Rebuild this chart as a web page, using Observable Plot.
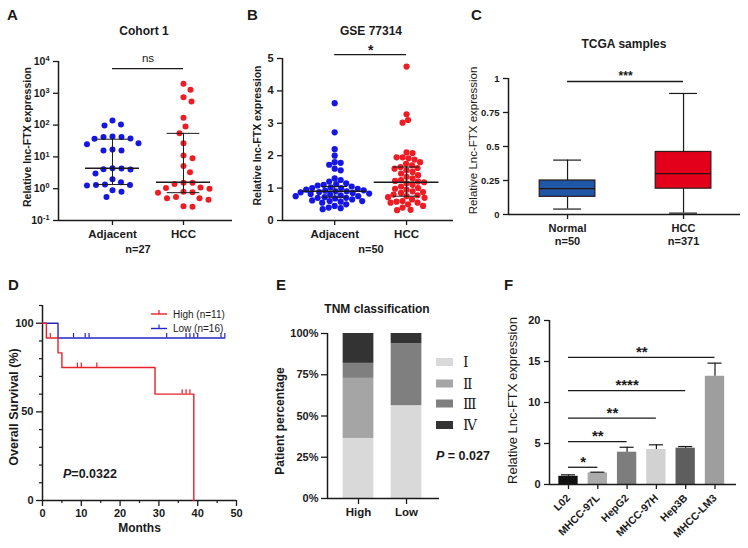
<!DOCTYPE html>
<html><head><meta charset="utf-8">
<script src="https://cdn.jsdelivr.net/npm/d3@7"></script>
<script src="https://cdn.jsdelivr.net/npm/@observablehq/plot@0.6"></script>
<style>
body{margin:0;background:#fff;}
#wrap{position:relative;width:748px;height:548px;overflow:hidden;background:#fff;}
.panel{position:absolute;}
#overlay{position:absolute;left:0;top:0;pointer-events:none;}
</style></head><body><div id="wrap"></div>
<script>
// ---------------- DATA ----------------
// A: Cohort 1 (log scale)
const groupsA = ["Adjacent", "HCC"];
const adjA = [140, 98, 105, 42, 42, 38, 37, 44, 27, 25, 17, 16, 16, 4.3, 4.1, 4.0, 3.0, 4.4, 2.0, 1.6, 1.3, 1.25, 1.35, 1.3, 0.9, 0.8, 0.55];
const hccA = [2000, 1300, 750, 550, 170, 90, 55, 27, 11, 9, 5.2, 3.3, 1.55, 1.55, 1.4, 1.1, 1.05, 1.0, 0.8, 0.75, 0.78, 0.55, 0.5, 0.5, 0.45, 0.27, 0.28];
const medA = [4.4, 1.6], q1A = [1.35, 0.75], q3A = [36, 55];
const sigA = {y: 6000, label: "ns"};
const ticksA = [0.1, 1, 10, 100, 1000, 10000];
// B: GSE 77314
const groupsB = ["Adjacent", "HCC"];
const adjB = [3.62, 2.72, 2.2, 2.0, 1.8, 1.78, 1.72, 1.6, 1.55, 1.3, 1.25, 1.2, 1.15, 1.12, 1.1, 1.08, 1.05, 1.02, 1.0, 1.0, 0.98, 0.95, 0.93, 0.92, 0.9, 0.9, 0.88, 0.87, 0.85, 0.83, 0.82, 0.8, 0.78, 0.75, 0.75, 0.72, 0.7, 0.7, 0.68, 0.65, 0.62, 0.6, 0.6, 0.58, 0.55, 0.5, 0.45, 0.4, 0.38, 0.35];
const hccB = [4.75, 3.28, 3.1, 3.02, 2.1, 2.08, 1.95, 1.95, 1.92, 1.88, 1.8, 1.75, 1.7, 1.65, 1.62, 1.6, 1.55, 1.5, 1.45, 1.4, 1.35, 1.3, 1.25, 1.22, 1.2, 1.18, 1.15, 1.1, 1.05, 1.0, 0.98, 0.95, 0.9, 0.88, 0.85, 0.8, 0.78, 0.75, 0.72, 0.7, 0.65, 0.6, 0.58, 0.55, 0.55, 0.5, 0.45, 0.4, 0.33, 0.32];
const medB = [0.9, 1.18], q1B = [0.72, 0.75], q3B = [1.05, 1.65];
const sigB = {y: 5.12, label: "*"};
const ticksB = [0, 1, 2, 3, 4, 5];
// C: TCGA samples (box summaries)
const groupsC = ["Normal", "HCC"];
const nC = [50, 371];
const minC = [0.04, 0.01], q1C = [0.13, 0.19], medC = [0.19, 0.30], q3C = [0.25, 0.46], maxC = [0.40, 0.89];
const sigC = {y: 0.978, label: "***"};
const ticksC = [0, 0.25, 0.5, 0.75, 1];
// D: Kaplan-Meier
const highT = [0, 1, 4, 5, 29, 39], highS = [100, 91.7, 83.3, 75, 60, 0];
const lowT = [0, 4, 47], lowS = [100, 91.7, 91.7];
const highCensT = [2, 9, 10, 14, 36, 37, 38], highCensS = [91.7, 75, 75, 75, 60, 60, 60];
const lowCensT = [8, 11, 12, 32, 37, 38, 39, 40, 46, 47], lowCensS = [91.7, 91.7, 91.7, 91.7, 91.7, 91.7, 91.7, 91.7, 91.7, 91.7];
const seriesD = ["High (n=11)", "Low (n=16)"];
const pD = "0.0322";
// E: TNM classification (%)
const tnmGroups = ["High", "Low"];
const stages = ["Ⅰ", "Ⅱ", "Ⅲ", "Ⅳ"];
const tnmHigh = [36.4, 36.4, 9.1, 18.1];
const tnmLow = [56.25, 0, 37.5, 6.25];
const pE = "0.027";
// F: cell lines
const cells = ["L02", "MHCC-97L", "HepG2", "MHCC-97H", "Hep3B", "MHCC-LM3"];
const cellMean = [1.0, 1.42, 3.94, 4.27, 4.43, 13.2];
const cellSD = [0.18, 0.08, 0.6, 0.57, 0.2, 1.6];
const sigTo = [1, 2, 3, 4, 5];
const sigY = [2.1, 5.24, 8.1, 11.46, 15.5];
const sigLabel = ["*", "**", "**", "****", "**"];

// ---------------- STYLE ----------------
const FONT = 'Arial, "Liberation Sans", sans-serif';
const BLUE = "#1616e4", RED = "#ef1c24";
const INK = "#1a1a1a";
const wrap = document.getElementById("wrap");
function style(extra) {
  return Object.assign({background: "transparent", overflow: "visible", fontFamily: FONT,
    fontSize: "11px", fontWeight: "bold", color: INK}, extra || {});
}
function place(svg, left, top) {
  const d = document.createElement("div");
  d.className = "panel"; d.style.left = left + "px"; d.style.top = top + "px";
  d.appendChild(svg); wrap.appendChild(d);
}
function ylabel(s, dx, dy, size, weight) {
  return Plot.text([s], {text: d => d, frameAnchor: "left", textAnchor: "middle", lineAnchor: "middle",
    rotate: -90, dx, dy, fontSize: size, fontWeight: weight || "bold"});
}
function swarm(vals, py, unitPx, dmin) {
  const n = vals.length, off = new Array(n), placed = [];
  const order = d3.range(n).sort((a, b) => py(vals[a]) - py(vals[b]));
  for (const i of order) {
    const y = py(vals[i]);
    let xb = 0;
    for (let k = 0; k < 4000; k++) {
      const c = (k % 2 ? 1 : -1) * Math.ceil(k / 2) * 0.5;
      if (placed.every(p => (p.x - c) ** 2 + (p.y - y) ** 2 >= dmin * dmin)) { xb = c; break; }
    }
    placed.push({x: xb, y});
    off[i] = xb / unitPx;
  }
  return off;
}
function superscripts(svg) {
  d3.select(svg).selectAll('g[aria-label="y-axis tick label"] text').each(function () {
    const parts = this.textContent.split("^");
    if (parts.length === 2) {
      const s = d3.select(this); s.text(parts[0]);
      s.append("tspan").attr("dy", "-0.5em").attr("font-size", "0.7em").text(parts[1]);
    }
  });
}

// ---------------- PANEL A ----------------
{
  const W = 245, H = 265, m = {l: 58, r: 13, t: 61, b: 45};
  const xd = [-0.76, 1.69];
  const ys = Plot.scale({y: {type: "log", domain: [0.1, 1e4], range: [H - m.b, m.t]}});
  const unit = (W - m.l - m.r) / (xd[1] - xd[0]);
  const pts = [];
  [adjA, hccA].forEach((vals, g) => {
    const off = swarm(vals, v => ys.apply(v), unit, 9);
    vals.forEach((v, i) => pts.push({g: groupsA[g], v, x: g + off[i]}));
  });
  const sum = groupsA.map((name, i) => ({i, med: medA[i], q1: q1A[i], q3: q3A[i]}));
  const svg = Plot.plot({
    width: W, height: H, marginLeft: m.l, marginRight: m.r, marginTop: m.t, marginBottom: m.b,
    style: style(),
    x: {domain: xd}, y: {type: "log", domain: [0.1, 1e4]},
    color: {domain: groupsA, range: [BLUE, RED]},
    marks: [
      Plot.dot(pts, {x: "x", y: "v", r: 3, fill: "g"}),
      Plot.ruleY(sum, {y: "med", x1: d => d.i - 0.38, x2: d => d.i + 0.38, stroke: INK, strokeWidth: 1.4}),
      Plot.ruleY(sum, {y: "q1", x1: d => d.i - 0.23, x2: d => d.i + 0.23, stroke: INK, strokeWidth: 1}),
      Plot.ruleY(sum, {y: "q3", x1: d => d.i - 0.23, x2: d => d.i + 0.23, stroke: INK, strokeWidth: 1}),
      Plot.ruleX(sum, {x: "i", y1: "q1", y2: "q3", stroke: INK, strokeWidth: 1}),
      Plot.ruleX([xd[0]], {stroke: INK, strokeWidth: 1.5}),
      Plot.ruleY([0.1], {stroke: INK, strokeWidth: 1.5}),
      Plot.axisY({ticks: ticksA, tickFormat: d => "10^" + Math.round(Math.log10(d)), tickSize: 5, strokeWidth: 1.3, fontSize: 10.5, label: null}),
      Plot.axisX({ticks: [0, 1], tickFormat: i => groupsA[i], tickSize: 5, strokeWidth: 1.3, fontSize: 11.5, label: null}),
      Plot.ruleY([sigA], {y: "y", x1: 0, x2: 1, stroke: INK, strokeWidth: 1.3}),
      Plot.text([sigA], {y: "y", x: 0.5, text: "label", dy: -10, fontWeight: "normal", fontSize: 11.5}),
      ylabel("Relative lnc-FTX expression", -31, -4, 10.5)
    ]
  });
  superscripts(svg);
  place(svg, 0, 0);
}

// ---------------- PANEL B ----------------
{
  const W = 245, H = 265, m = {l: 42, r: 32, t: 58, b: 45};
  const xd = [-0.726, 1.653];
  const ys = Plot.scale({y: {domain: [0, 5], range: [H - m.b, m.t]}});
  const unit = (W - m.l - m.r) / (xd[1] - xd[0]);
  const pts = [];
  [adjB, hccB].forEach((vals, g) => {
    const off = swarm(vals, v => ys.apply(v), unit, 6.0);
    vals.forEach((v, i) => pts.push({g: groupsB[g], v, x: g + off[i]}));
  });
  const sum = groupsB.map((name, i) => ({i, med: medB[i], q1: q1B[i], q3: q3B[i]}));
  const svg = Plot.plot({
    width: W, height: H, marginLeft: m.l, marginRight: m.r, marginTop: m.t, marginBottom: m.b,
    style: style(),
    x: {domain: xd}, y: {domain: [0, 5]},
    color: {domain: groupsB, range: [BLUE, RED]},
    marks: [
      Plot.dot(pts, {x: "x", y: "v", r: 3.1, fill: "g"}),
      Plot.ruleY(sum, {y: "med", x1: d => d.i - 0.45, x2: d => d.i + 0.45, stroke: INK, strokeWidth: 1.5}),
      Plot.ruleY(sum, {y: "q1", x1: d => d.i - 0.18, x2: d => d.i + 0.18, stroke: INK, strokeWidth: 1}),
      Plot.ruleY(sum, {y: "q3", x1: d => d.i - 0.18, x2: d => d.i + 0.18, stroke: INK, strokeWidth: 1}),
      Plot.ruleX(sum, {x: "i", y1: "q1", y2: "q3", stroke: INK, strokeWidth: 1}),
      Plot.ruleX([xd[0]], {stroke: INK, strokeWidth: 1.5}),
      Plot.ruleY([0], {stroke: INK, strokeWidth: 1.5}),
      Plot.axisY({ticks: ticksB, tickFormat: d => String(d), tickSize: 5, strokeWidth: 1.3, fontSize: 11, label: null}),
      Plot.axisX({ticks: [0, 1], tickFormat: i => groupsB[i], tickSize: 5, strokeWidth: 1.3, fontSize: 11.5, label: null}),
      Plot.ruleY([sigB], {y: "y", x1: 0, x2: 1, stroke: INK, strokeWidth: 1.3}),
      Plot.text([sigB], {y: "y", x: 0.5, text: "label", dy: -4, fontSize: 14}),
      ylabel("Relative lnc-FTX expression", -25, -4, 10.5)
    ]
  });
  place(svg, 240, 0);
}

// ---------------- PANEL C ----------------
{
  const W = 288, H = 262, m = {l: 48, r: 8, t: 78, b: 48};
  const xd = [-0.509, 1.491];
  const box = groupsC.map((g, i) => ({i, g, min: minC[i], q1: q1C[i], med: medC[i], q3: q3C[i], max: maxC[i]}));
  const svg = Plot.plot({
    width: W, height: H, marginLeft: m.l, marginRight: m.r, marginTop: m.t, marginBottom: m.b,
    style: style(),
    x: {domain: xd}, y: {domain: [0, 1]},
    color: {domain: groupsC, range: ["#1f56a6", "#e3001b"]},
    marks: [
      Plot.ruleX(box, {x: "i", y1: "min", y2: "q1", stroke: INK, strokeWidth: 1.2}),
      Plot.ruleX(box, {x: "i", y1: "q3", y2: "max", stroke: INK, strokeWidth: 1.2}),
      Plot.ruleY(box, {y: "min", x1: d => d.i - 0.12, x2: d => d.i + 0.12, stroke: INK, strokeWidth: 1.2}),
      Plot.ruleY(box, {y: "max", x1: d => d.i - 0.12, x2: d => d.i + 0.12, stroke: INK, strokeWidth: 1.2}),
      Plot.rectY(box, {x1: d => d.i - 0.24, x2: d => d.i + 0.24, y1: "q1", y2: "q3", fill: "g", stroke: "#2a1a1a", strokeWidth: 1.2}),
      Plot.ruleY(box, {y: "med", x1: d => d.i - 0.24, x2: d => d.i + 0.24, stroke: "#2a1010", strokeWidth: 1.3}),
      Plot.ruleX([xd[0]], {stroke: INK, strokeWidth: 1.5}),
      Plot.ruleY([0], {stroke: INK, strokeWidth: 1.5}),
      Plot.axisY({ticks: ticksC, tickFormat: d => String(d), tickSize: 5, strokeWidth: 1.3, fontSize: 9.5, label: null}),
      Plot.axisX({ticks: [0, 1], tickFormat: i => groupsC[i] + "\nn=" + nC[i], tickSize: 5, strokeWidth: 1.3, fontSize: 11, lineHeight: 1.15, label: null}),
      Plot.ruleY([sigC], {y: "y", x1: 0, x2: 1, stroke: INK, strokeWidth: 1.3}),
      Plot.text([sigC], {y: "y", x: 0.5, text: "label", dy: -5, fontSize: 12}),
      ylabel("Relative Lnc-FTX expression", -35, -6, 11.5, "normal")
    ]
  });
  place(svg, 460, 0);
}

// ---------------- PANEL D ----------------
{
  const W = 245, H = 278, m = {l: 42, r: 9, t: 35, b: 48};
  const high = highT.map((t, i) => ({t, s: highS[i]}));
  const low = lowT.map((t, i) => ({t, s: lowS[i]}));
  const hc = highCensT.map((t, i) => ({t, s: highCensS[i]}));
  const lc = lowCensT.map((t, i) => ({t, s: lowCensS[i]}));
  const svg = Plot.plot({
    width: W, height: H, marginLeft: m.l, marginRight: m.r, marginTop: m.t, marginBottom: m.b,
    style: style(),
    x: {domain: [0, 50]}, y: {domain: [0, 110]},
    marks: [
      Plot.ruleX([0], {stroke: INK, strokeWidth: 1.5}),
      Plot.ruleY([0], {stroke: INK, strokeWidth: 1.5}),
      Plot.axisY({ticks: [0, 50, 100], tickSize: 6, strokeWidth: 1.3, fontSize: 11, label: null}),
      Plot.axisY({ticks: d3.range(10, 111, 10).filter(v => v !== 50 && v !== 100), tickSize: 3, strokeWidth: 1.2, tickFormat: () => "", label: null}),
      Plot.axisX({ticks: d3.range(0, 51, 10), tickSize: 6, strokeWidth: 1.3, fontSize: 11, label: null}),
      Plot.axisX({ticks: d3.range(5, 50, 10), tickSize: 3, strokeWidth: 1.2, tickFormat: () => "", label: null}),
      Plot.line(low, {x: "t", y: "s", curve: "step-after", stroke: "#2424c8", strokeWidth: 1.4}),
      Plot.line(high, {x: "t", y: "s", curve: "step-after", stroke: "#e8202a", strokeWidth: 1.4}),
      Plot.ruleX(lc, {x: "t", y1: "s", y2: d => d.s + 2.5, stroke: "#2424c8", strokeWidth: 1.2}),
      Plot.ruleX(hc, {x: "t", y1: "s", y2: d => d.s + 2.5, stroke: "#e8202a", strokeWidth: 1.2}),
      Plot.text(["Months"], {text: d => d, frameAnchor: "bottom", lineAnchor: "middle", dy: 28, fontSize: 12}),
      ylabel("Overall Survival (%)", -29, 4, 12.5)
    ]
  });
  place(svg, 0, 270);
}

// ---------------- PANEL E ----------------
{
  const W = 250, H = 278, m = {l: 87, r: 51, t: 63, b: 50};
  const xd = [-0.646, 1.687];
  const rows = [];
  tnmGroups.forEach((g, gi) => stages.forEach((s, si) => rows.push({gi, stage: s, pct: gi ? tnmLow[si] : tnmHigh[si]})));
  const svg = Plot.plot({
    width: W, height: H, marginLeft: m.l, marginRight: m.r, marginTop: m.t, marginBottom: m.b,
    style: style(),
    x: {domain: xd}, y: {domain: [0, 100]},
    color: {domain: stages, range: ["#d9d9d9", "#a5a5a5", "#7f7f7f", "#333333"]},
    marks: [
      Plot.rectY(rows, {x1: d => d.gi - 0.32, x2: d => d.gi + 0.32, y: "pct", fill: "stage"}),
      Plot.ruleX([xd[0]], {stroke: INK, strokeWidth: 1.5}),
      Plot.ruleY([0], {stroke: INK, strokeWidth: 1.5}),
      Plot.axisY({ticks: [0, 25, 50, 75, 100], tickFormat: d => d + "%", tickSize: 6, strokeWidth: 1.3, fontSize: 11, label: null}),
      Plot.axisX({ticks: [0, 1], tickFormat: i => tnmGroups[i], tickSize: 6, strokeWidth: 1.3, fontSize: 11.5, label: null}),
      ylabel("Patient percentage", -47, 5, 12)
    ]
  });
  place(svg, 240, 270);
}

// ---------------- PANEL F ----------------
{
  const W = 258, H = 278, m = {l: 59, r: 12, t: 50, b: 64};
  const xd = [-0.648, 5.734];
  const rows = cells.map((c, i) => ({i, c, mean: cellMean[i], sd: cellSD[i]}));
  const sig = sigTo.map((to, k) => ({from: 0, to, y: sigY[k], label: sigLabel[k]}));
  const svg = Plot.plot({
    width: W, height: H, marginLeft: m.l, marginRight: m.r, marginTop: m.t, marginBottom: m.b,
    style: style(),
    x: {domain: xd}, y: {domain: [0, 20]},
    color: {domain: cells, range: ["#111111", "#ababab", "#7d7d7d", "#d2d2d2", "#5e5e5e", "#9e9e9e"]},
    marks: [
      Plot.rectY(rows, {x1: d => d.i - 0.33, x2: d => d.i + 0.33, y1: 0, y2: "mean", fill: "c"}),
      Plot.ruleX(rows, {x: "i", y1: "mean", y2: d => d.mean + d.sd, stroke: INK, strokeWidth: 1.2}),
      Plot.ruleY(rows, {y: d => d.mean + d.sd, x1: d => d.i - 0.24, x2: d => d.i + 0.24, stroke: INK, strokeWidth: 1.2}),
      Plot.ruleX([xd[0]], {stroke: INK, strokeWidth: 1.5}),
      Plot.ruleY([0], {stroke: INK, strokeWidth: 1.5}),
      Plot.axisY({ticks: [0, 5, 10, 15, 20], tickSize: 5, strokeWidth: 1.3, fontSize: 11, label: null}),
      Plot.axisX({ticks: d3.range(cells.length), tickFormat: i => cells[i], tickRotate: -45, tickSize: 5, strokeWidth: 1.3, fontSize: 10.5, label: null}),
      Plot.ruleY(sig, {y: "y", x1: "from", x2: "to", stroke: INK, strokeWidth: 1.3}),
      Plot.text(sig, {y: "y", x: d => (d.from + d.to) / 2, text: "label", dy: -5, fontSize: 15}),
      ylabel("Relative Lnc-FTX expression", -37, -2, 13, "normal")
    ]
  });
  place(svg, 490, 270);
}

// ---------------- OVERLAY: letters, titles, legends ----------------
{
  const ov = d3.select(wrap).append("svg").attr("id", "overlay").attr("width", 748).attr("height", 548)
    .style("font-family", FONT).style("fill", INK);
  const T = (x, y, s, o = {}) => ov.append("text").attr("x", x).attr("y", y)
    .attr("text-anchor", o.anchor || "start").attr("font-size", o.size || 12)
    .attr("font-weight", o.weight || "bold").text(s);
  // panel letters
  [["A", 7, 20], ["B", 247, 20], ["C", 471, 20], ["D", 8, 290], ["E", 276, 290], ["F", 504, 290]]
    .forEach(([s, x, y]) => T(x, y, s, {size: 15}));
  // titles
  T(144, 35, "Cohort 1", {anchor: "middle", size: 12});
  T(371, 35, "GSE 77314", {anchor: "middle", size: 12});
  T(624, 48, "TCGA samples", {anchor: "middle", size: 12});
  T(377, 313, "TNM classification", {anchor: "middle", size: 12});
  T(138, 253, "n=" + adjA.length, {anchor: "middle", size: 11});
  T(371, 253, "n=" + adjB.length, {anchor: "middle", size: 11});
  // D legend
  const legCol = ["#e8202a", "#2424c8"];
  seriesD.forEach((s, k) => {
    const y = 314 + k * 14.5;
    ov.append("line").attr("x1", 151).attr("x2", 167).attr("y1", y).attr("y2", y).attr("stroke", legCol[k]).attr("stroke-width", 1.4);
    ov.append("line").attr("x1", 159).attr("x2", 159).attr("y1", y).attr("y2", y - 4).attr("stroke", legCol[k]).attr("stroke-width", 1.2);
    T(173, y + 3.5, s, {size: 10, weight: "normal"});
  });
  const pd = T(63, 478, "", {size: 12.5});
  pd.append("tspan").attr("font-style", "italic").text("P");
  pd.append("tspan").text("=" + pD);
  // E legend
  const eCol = ["#d9d9d9", "#a5a5a5", "#7f7f7f", "#333333"];
  const eY = [362, 383.5, 403.5, 425];
  stages.forEach((s, k) => {
    ov.append("rect").attr("x", 436).attr("y", eY[k] - 4).attr("width", 17).attr("height", 8).attr("fill", eCol[k]);
    ov.append("text").attr("x", 463).attr("y", eY[k] + 5).attr("font-size", 14)
      .attr("font-family", '"DejaVu Serif", "Liberation Serif", serif').text(s);
  });
  const pe = T(436, 460, "", {size: 12.5});
  pe.append("tspan").attr("font-style", "italic").text("P");
  pe.append("tspan").text(" = " + pE);
}
</script></body></html>
